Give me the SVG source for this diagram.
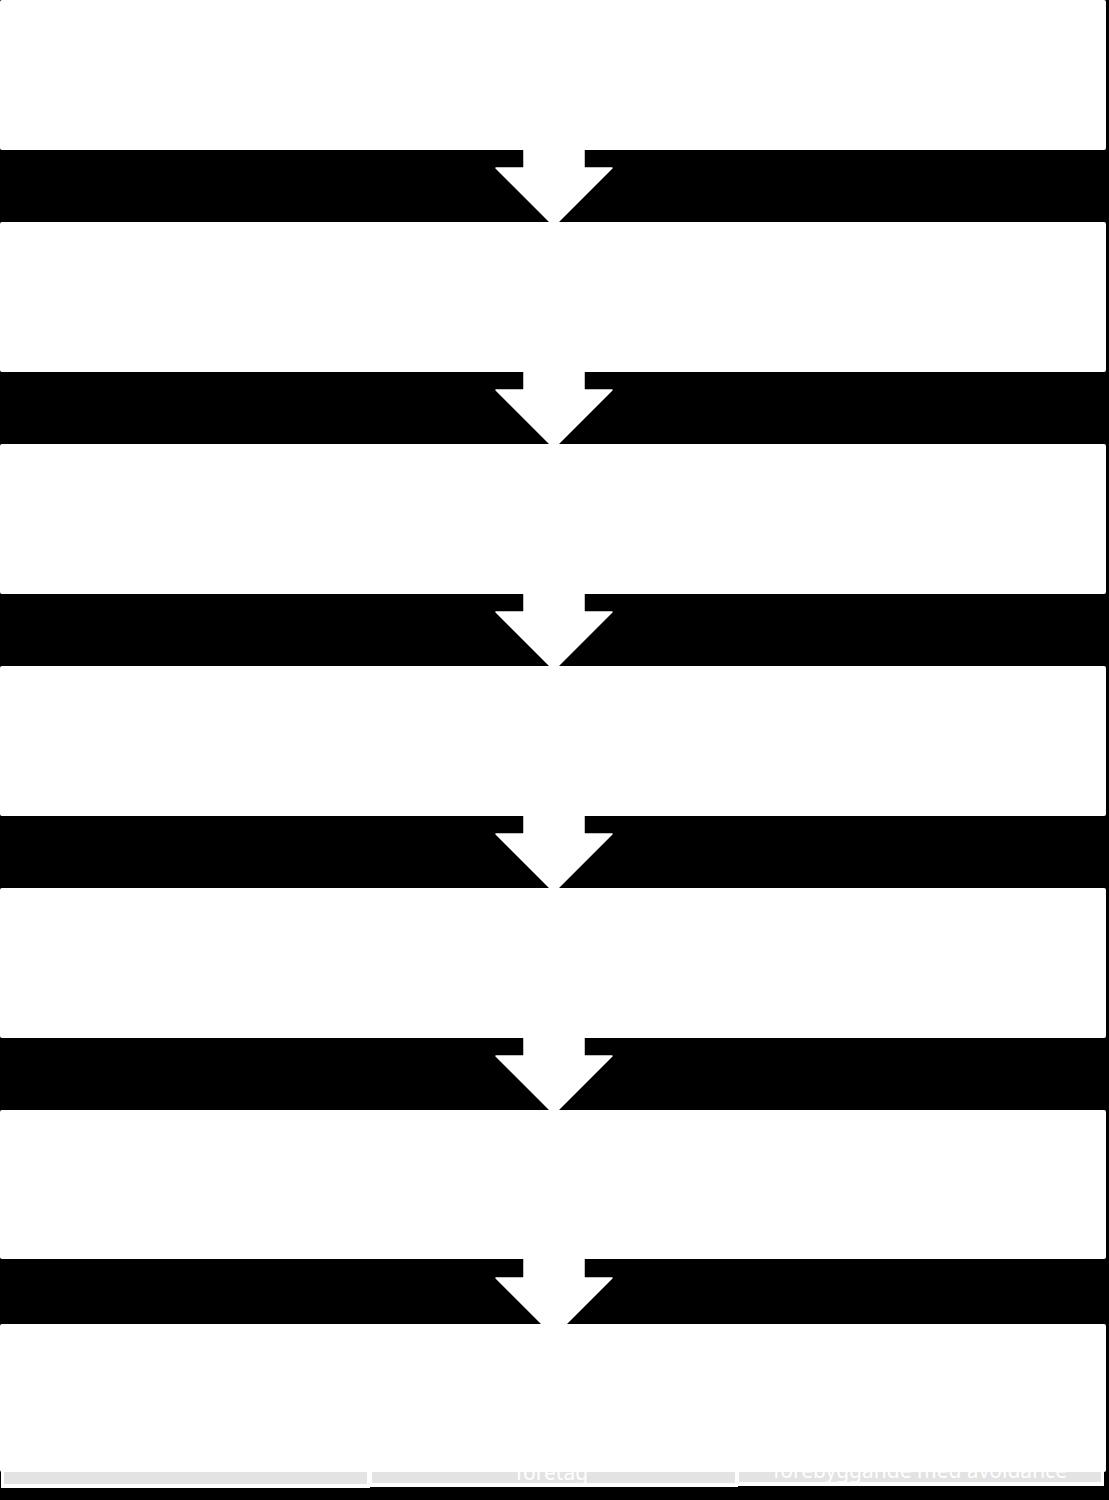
<svg xmlns="http://www.w3.org/2000/svg" width="1109" height="1500" viewBox="0 0 1109 1500">
<style>
.box{fill:#ffffff;}
.arrow{fill:#ffffff;stroke:#ffffff;stroke-width:1.5;stroke-linejoin:round;}
.cellb{fill:#ffffff;}
.cell{fill:#e3e3e3;}
.t{font-family:"Noto Sans","Open Sans","Liberation Sans",sans-serif;font-size:21px;fill:#ffffff;text-anchor:middle;}
</style>
<rect x="0" y="0" width="1109" height="1500" fill="#000000"/>
<g id="table">
<rect class="cellb" x="1" y="1466" width="369" height="22"/>
<rect class="cell" x="4" y="1466" width="363" height="18"/>
<rect class="cellb" x="369" y="1466" width="369" height="21"/>
<rect class="cell" x="372" y="1466" width="363" height="17"/>
<text class="t" x="552" y="1480">företag</text>
<rect class="cellb" x="736" y="1466" width="368" height="20"/>
<rect class="cell" x="739" y="1466" width="362" height="16"/>
<text class="t" x="920" y="1478">förebyggande med avoidance</text>
</g>
<g id="connectors">
<polygon class="arrow" points="524,150 584,150 584,168 612,168 554,226 496,168 524,168"/>
<polygon class="arrow" points="524,372 584,372 584,390 612,390 554,448 496,390 524,390"/>
<polygon class="arrow" points="524,594 584,594 584,612 612,612 554,670 496,612 524,612"/>
<polygon class="arrow" points="524,816 584,816 584,834 612,834 554,892 496,834 524,834"/>
<polygon class="arrow" points="524,1038 584,1038 584,1056 612,1056 554,1114 496,1056 524,1056"/>
<polygon class="arrow" points="524,1259 584,1259 584,1278 612,1278 554,1336 496,1278 524,1278"/>
</g>
<g id="node1"><rect class="box" x="0" y="0" width="1106" height="150" rx="2"/></g>
<g id="node2"><rect class="box" x="0" y="222" width="1106" height="150" rx="2"/></g>
<g id="node3"><rect class="box" x="0" y="444" width="1106" height="150" rx="2"/></g>
<g id="node4"><rect class="box" x="0" y="666" width="1106" height="150" rx="2"/></g>
<g id="node5"><rect class="box" x="0" y="888" width="1106" height="150" rx="2"/></g>
<g id="node6"><rect class="box" x="0" y="1110" width="1106" height="149" rx="2"/></g>
<g id="node7"><rect class="box" x="0" y="1324" width="1106" height="148" rx="2"/></g>
</svg>
